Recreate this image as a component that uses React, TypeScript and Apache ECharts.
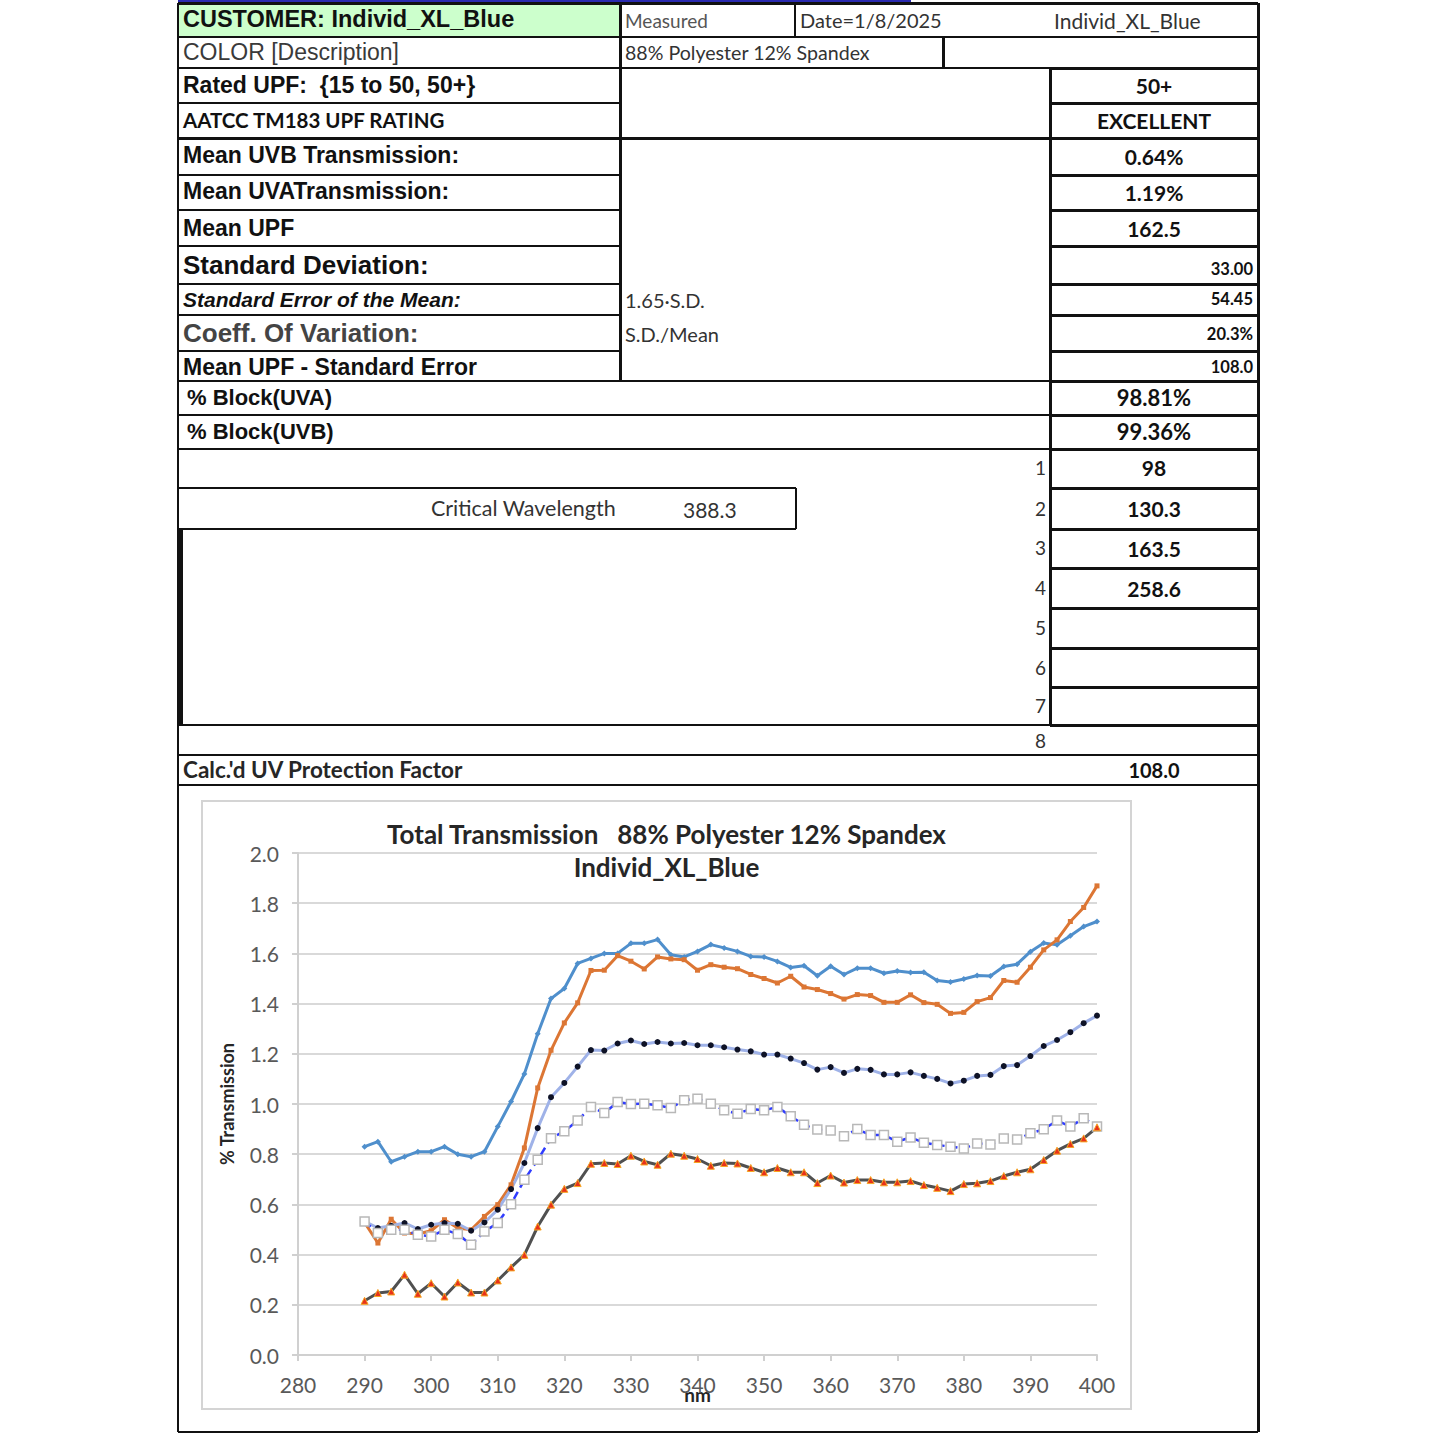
import React, { useEffect, useRef } from "react";
import * as echarts from "echarts";

// ---------------- DATA ----------------
const wavelengths = [
  290, 292, 294, 296, 298, 300, 302, 304, 306, 308, 310, 312, 314, 316, 318, 320, 322, 324, 326, 328,
  330, 332, 334, 336, 338, 340, 342, 344, 346, 348, 350, 352, 354, 356, 358, 360, 362, 364, 366, 368,
  370, 372, 374, 376, 378, 380, 382, 384, 386, 388, 390, 392, 394, 396, 398, 400,
];

const seriesBlue = [
  0.83, 0.85, 0.77, 0.79, 0.81, 0.81, 0.83, 0.8, 0.79, 0.81, 0.91, 1.01, 1.12, 1.28, 1.42, 1.46, 1.56, 1.58, 1.6, 1.6,
  1.64, 1.64, 1.655, 1.595, 1.586, 1.608, 1.635, 1.622, 1.608, 1.588, 1.586, 1.568, 1.544, 1.551, 1.511, 1.549, 1.516, 1.541, 1.541, 1.521,
  1.53, 1.524, 1.525, 1.492, 1.486, 1.498, 1.512, 1.51, 1.548, 1.557, 1.607, 1.641, 1.634, 1.67, 1.707, 1.727,
];

const seriesOrange = [
  0.528, 0.446, 0.541, 0.486, 0.482, 0.495, 0.539, 0.506, 0.499, 0.552, 0.599, 0.678, 0.825, 1.064, 1.214, 1.323, 1.403, 1.532, 1.533, 1.591,
  1.569, 1.538, 1.586, 1.578, 1.575, 1.533, 1.555, 1.545, 1.539, 1.516, 1.5, 1.482, 1.509, 1.466, 1.456, 1.44, 1.418, 1.436, 1.432, 1.405,
  1.405, 1.435, 1.404, 1.397, 1.361, 1.365, 1.408, 1.424, 1.492, 1.485, 1.545, 1.614, 1.654, 1.727, 1.783, 1.869,
];

const seriesNavyDots = [
  0.532, 0.506, 0.515, 0.526, 0.502, 0.519, 0.526, 0.523, 0.495, 0.528, 0.579, 0.661, 0.765, 0.904, 1.027, 1.084, 1.149, 1.215, 1.213, 1.241,
  1.253, 1.239, 1.247, 1.241, 1.243, 1.234, 1.234, 1.226, 1.217, 1.21, 1.197, 1.197, 1.181, 1.163, 1.137, 1.147, 1.124, 1.14, 1.136, 1.118,
  1.118, 1.126, 1.112, 1.1, 1.082, 1.093, 1.112, 1.116, 1.151, 1.155, 1.191, 1.231, 1.255, 1.286, 1.322, 1.352,
];

const seriesSquares = [
  0.532, 0.486, 0.499, 0.499, 0.479, 0.472, 0.499, 0.482, 0.439, 0.492, 0.526, 0.601, 0.698, 0.778, 0.864, 0.891, 0.934, 0.988, 0.964, 1.008,
  1.0, 1.001, 0.995, 0.984, 1.015, 1.021, 1.001, 0.975, 0.961, 0.98, 0.975, 0.988, 0.951, 0.917, 0.898, 0.894, 0.872, 0.9, 0.876, 0.876,
  0.85, 0.867, 0.846, 0.837, 0.83, 0.823, 0.843, 0.839, 0.863, 0.859, 0.883, 0.899, 0.934, 0.91, 0.943, 0.91,
];

const seriesGray = [
  0.216, 0.247, 0.253, 0.32, 0.244, 0.286, 0.233, 0.289, 0.249, 0.249, 0.297, 0.349, 0.399, 0.512, 0.599, 0.662, 0.685, 0.762, 0.765, 0.761,
  0.794, 0.771, 0.758, 0.802, 0.794, 0.781, 0.754, 0.765, 0.763, 0.745, 0.728, 0.745, 0.728, 0.728, 0.685, 0.715, 0.687, 0.697, 0.697, 0.688,
  0.688, 0.693, 0.677, 0.666, 0.653, 0.681, 0.684, 0.693, 0.713, 0.728, 0.74, 0.777, 0.814, 0.841, 0.863, 0.907,
];

const chartTitle = "Total Transmission   88% Polyester 12% Spandex";
const chartSubtitle = "Individ_XL_Blue";
const xAxisName = "nm";
const yAxisName = "% Transmission";

const statValues = ["0.64%", "1.19%", "162.5"];
const spreadValues = ["33.00", "54.45", "20.3%", "108.0"];
const blockValues = ["98.81%", "99.36%"];
const sampleUPF = ["98", "130.3", "163.5", "258.6", "", "", ""];
const sampleIndex = ["1", "2", "3", "4", "5", "6", "7", "8"];

// ---------------- STYLE ----------------
const ARIAL = '"Liberation Sans", Arial, sans-serif';
const CAL = 'Lato, "Liberation Sans", sans-serif';

type LP = { x1: number; x2: number; y: number; w?: number };
const HL = ({ x1, x2, y, w = 2 }: LP) => (
  <div style={{ position: "absolute", left: x1, top: y - w / 2, width: x2 - x1, height: w, background: "#111" }} />
);
type VP = { x: number; y1: number; y2: number; w?: number };
const VL = ({ x, y1, y2, w = 2 }: VP) => (
  <div style={{ position: "absolute", left: x - w / 2, top: y1, width: w, height: y2 - y1, background: "#111" }} />
);

type TP = {
  x: number;
  y: number;
  w: number;
  h: number;
  text: string;
  align?: "left" | "center" | "right";
  size?: number;
  bold?: boolean;
  italic?: boolean;
  font?: string;
  color?: string;
};
const T = ({ x, y, w, h, text, align = "left", size = 22, bold = true, italic = false, font = ARIAL, color = "#111" }: TP) => (
  <div
    style={{
      position: "absolute",
      left: x,
      top: y,
      width: w,
      height: h,
      display: "flex",
      alignItems: "center",
      justifyContent: align === "left" ? "flex-start" : align === "right" ? "flex-end" : "center",
      whiteSpace: "pre",
      lineHeight: 1,
      fontFamily: font,
      fontSize: size,
      fontWeight: bold ? 700 : 400,
      fontStyle: italic ? "italic" : "normal",
      color,
      boxSizing: "border-box",
    }}
  >
    {text}
  </div>
);

function Chart() {
  const ref = useRef<HTMLDivElement>(null);
  useEffect(() => {
    if (!ref.current) return;
    const chart = echarts.init(ref.current, undefined, { renderer: "svg" });
    const toPairs = (vals: number[]) => wavelengths.map((w, i) => [w, vals[i]]);
    const axisColor = "#d0d0d0";
    chart.setOption({
      animation: false,
      title: [
        {
          text: chartTitle,
          left: "center",
          top: 21,
          padding: 0,
          textStyle: { fontFamily: CAL, fontSize: 26, fontWeight: "bold", color: "#262626" },
        },
        {
          text: chartSubtitle,
          left: "center",
          top: 54,
          padding: 0,
          textStyle: { fontFamily: CAL, fontSize: 26, fontWeight: "bold", color: "#262626" },
        },
      ],
      grid: { left: 97, right: 35, top: 53, bottom: 55, containLabel: false, outerBoundsMode: "none" },
      xAxis: {
        type: "value",
        min: 280,
        max: 400,
        interval: 10,
        name: xAxisName,
        nameLocation: "middle",
        nameGap: 30,
        nameMoveOverlap: false,
        nameTextStyle: { fontFamily: CAL, fontSize: 19, fontWeight: "bold", color: "#262626" },
        axisLine: { show: true, onZero: false, lineStyle: { color: axisColor, width: 2 } },
        axisTick: { show: true, length: 6, lineStyle: { color: axisColor, width: 2 } },
        axisLabel: { color: "#595959", fontFamily: CAL, fontSize: 21, margin: 19 },
        splitLine: { show: false },
      },
      yAxis: {
        type: "value",
        min: 0,
        max: 2,
        interval: 0.2,
        name: yAxisName,
        nameLocation: "middle",
        nameGap: 62,
        nameMoveOverlap: false,
        nameTextStyle: { fontFamily: CAL, fontSize: 18, fontWeight: "bold", color: "#262626" },
        axisLine: { show: true, lineStyle: { color: axisColor, width: 2 } },
        axisTick: { show: true, length: 6, lineStyle: { color: axisColor, width: 2 } },
        axisLabel: {
          color: "#595959",
          fontFamily: CAL,
          fontSize: 21,
          margin: 19,
          formatter: (v: number) => v.toFixed(1),
        },
        splitLine: { show: true, lineStyle: { color: "#d9d9d9", width: 2 } },
      },
      series: [
        {
          type: "line",
          name: "A",
          data: toPairs(seriesBlue),
          symbol: "diamond",
          symbolSize: 6,
          showAllSymbol: true,
          lineStyle: { color: "#4f8fcc", width: 3 },
          itemStyle: { color: "#4f8fcc" },
        },
        {
          type: "line",
          name: "B",
          data: toPairs(seriesOrange),
          symbol: "rect",
          symbolSize: 5,
          showAllSymbol: true,
          lineStyle: { color: "#dc7634", width: 3 },
          itemStyle: { color: "#dc7634" },
        },
        {
          type: "line",
          name: "C",
          data: toPairs(seriesNavyDots),
          symbol: "circle",
          symbolSize: 6,
          showAllSymbol: true,
          lineStyle: { color: "#9fb2e8", width: 3 },
          itemStyle: { color: "#0e1226" },
        },
        {
          type: "line",
          name: "D",
          data: toPairs(seriesSquares),
          symbol: "rect",
          symbolSize: 9,
          showAllSymbol: true,
          lineStyle: { color: "#2f3cff", width: 2.5, type: [8, 5] },
          itemStyle: { color: "#ffffff", borderColor: "#b8b8b8", borderWidth: 1.5 },
        },
        {
          type: "line",
          name: "E",
          data: toPairs(seriesGray),
          symbol: "triangle",
          symbolSize: 7,
          showAllSymbol: true,
          lineStyle: { color: "#505050", width: 3 },
          itemStyle: { color: "#e8321a", borderColor: "#f6a623", borderWidth: 1 },
        },
      ],
    });
    return () => chart.dispose();
  }, []);
  return <div ref={ref} style={{ position: "absolute", left: 201, top: 800, width: 931, height: 610 }} />;
}

export default function App() {
  const L = 178;
  const M1 = 620;
  const R1 = 1050;
  const R = 1258;
  const rightCellLines = [68, 103, 138, 175, 210, 246, 284, 315, 351, 381, 415, 449, 488, 529, 568, 608, 648, 687, 725];
  const leftRowLines = [103, 175, 210, 246, 284, 315, 351];
  const fullLines = [3, 37, 68, 138, 381, 415, 449, 725, 755, 785, 1432];
  const sampleRows = [
    [449, 488],
    [488, 529],
    [529, 568],
    [568, 608],
    [608, 648],
    [648, 687],
    [687, 725],
  ];
  const indexY = [467, 508, 547, 587, 627, 667, 705, 740];
  return (
    <div style={{ position: "absolute", left: 0, top: 0, width: 1445, height: 1445, background: "#fff", overflow: "hidden" }}>
      {/* top blue strip */}
      <div style={{ position: "absolute", left: 178, top: 0, width: 733, height: 3, background: "#2a2ab0" }} />
      {/* green customer cell */}
      <div style={{ position: "absolute", left: L, top: 3, width: M1 - L, height: 34, background: "#ccffcc" }} />

      {/* lines */}
      {fullLines.map((y) => (
        <HL key={"f" + y} x1={L} x2={R} y={y} w={y === 3 || y === 138 ? 3 : 2} />
      ))}
      {leftRowLines.map((y) => (
        <HL key={"l" + y} x1={L} x2={M1} y={y} />
      ))}
      {rightCellLines.map((y) => (
        <HL key={"r" + y} x1={R1} x2={R} y={y} w={3} />
      ))}
      <HL x1={L} x2={796} y={488} />
      <HL x1={L} x2={796} y={529} />
      <VL x={796} y1={488} y2={529} />
      <VL x={L} y1={3} y2={1432} w={2} />
      <VL x={L + 2} y1={529} y2={725} w={5} />
      <VL x={R} y1={3} y2={1432} w={3} />
      <VL x={M1} y1={3} y2={381} w={3} />
      <VL x={795} y1={3} y2={37} />
      <VL x={943} y1={37} y2={68} w={3} />
      <VL x={R1} y1={68} y2={725} w={3} />

      {/* chart frame */}
      <div
        style={{
          position: "absolute",
          left: 201,
          top: 800,
          width: 931,
          height: 610,
          border: "2px solid #d4d4d4",
          boxSizing: "border-box",
        }}
      />

      {/* left labels */}
      <T x={183} y={3} w={430} h={34} text="CUSTOMER: Individ_XL_Blue" size={23.5} />
      <T x={183} y={37} w={430} h={31} text="COLOR [Description]" size={23} bold={false} color="#3a3a3a" />
      <T x={183} y={68} w={430} h={35} text="Rated UPF:  {15 to 50, 50+}" size={23} />
      <T x={183} y={103} w={430} h={35} text="AATCC TM183 UPF RATING" size={20.5} font={CAL} />
      <T x={183} y={138} w={430} h={35} text="Mean UVB Transmission:" size={23} />
      <T x={183} y={175} w={430} h={33} text="Mean UVATransmission:" size={23} />
      <T x={183} y={210} w={430} h={36} text="Mean UPF" size={23} />
      <T x={183} y={246} w={430} h={38} text="Standard Deviation:" size={26} />
      <T x={183} y={284} w={430} h={31} text="Standard Error of the Mean:" size={21} italic />
      <T x={183} y={315} w={430} h={36} text="Coeff. Of Variation:" size={26} color="#444" />
      <T x={183} y={351} w={430} h={32} text="Mean UPF - Standard Error" size={23} />
      <T x={187} y={381} w={600} h={34} text="% Block(UVA)" size={22} />
      <T x={187} y={415} w={600} h={34} text="% Block(UVB)" size={22} />
      <T x={183} y={755} w={600} h={30} text="Calc.'d UV Protection Factor" size={22.5} font={CAL} color="#262626" />

      {/* middle texts */}
      <T x={625} y={3} w={170} h={34} text="Measured" size={19} bold={false} font={CAL} color="#555" />
      <T x={800} y={3} w={240} h={34} text="Date=1/8/2025" size={20} bold={false} font={CAL} color="#333" />
      <T x={1054} y={3} w={200} h={34} text="Individ_XL_Blue" size={21} bold={false} font={CAL} color="#333" />
      <T x={625} y={37} w={318} h={31} text="88% Polyester 12% Spandex" size={19.6} bold={false} font={CAL} color="#333" />
      <T x={625} y={284} w={300} h={31} text="1.65·S.D." size={20} bold={false} font={CAL} color="#333" />
      <T x={625} y={318} w={300} h={31} text="S.D./Mean" size={20} bold={false} font={CAL} color="#333" />
      <T x={431} y={489} w={220} h={40} text="Critical Wavelength" size={21.5} bold={false} font={CAL} color="#333" />
      <T x={683} y={489} w={80} h={40} text="388.3" size={21} bold={false} font={CAL} color="#333" />

      {/* right values */}
      <T x={R1} y={68} w={R - R1} h={35} text="50+" size={21} font={CAL} align="center" />
      <T x={R1} y={103} w={R - R1} h={35} text="EXCELLENT" size={21} font={CAL} align="center" />
      {statValues.map((v, i) => (
        <T key={"s" + i} x={R1} y={[138, 175, 210][i]} w={R - R1} h={[37, 35, 36][i]} text={v} size={21} font={CAL} align="center" />
      ))}
      {spreadValues.map((v, i) => (
        <T
          key={"sp" + i}
          x={R1}
          y={[254, 284, 318, 353][i]}
          w={R - R1 - 5}
          h={[30, 31, 33, 28][i]}
          text={v}
          size={16.5}
          font={CAL}
          align="right"
        />
      ))}
      {blockValues.map((v, i) => (
        <T key={"b" + i} x={R1} y={[381, 415][i]} w={R - R1} h={34} text={v} size={22} font={CAL} align="center" />
      ))}
      {sampleRows.map((r, i) => (
        <T key={"u" + i} x={R1} y={r[0]} w={R - R1} h={i === 0 ? 36 : r[1] - r[0]} text={sampleUPF[i]} size={21} font={CAL} align="center" />
      ))}
      {sampleIndex.map((v, i) => (
        <T
          key={"n" + i}
          x={1000}
          y={indexY[i] - 12}
          w={46}
          h={24}
          text={v}
          size={19}
          bold={false}
          font={CAL}
          align="right"
          color="#333"
        />
      ))}
      <T x={R1} y={755} w={R - R1} h={30} text="108.0" size={20} font={CAL} align="center" />

      <Chart />
    </div>
  );
}
